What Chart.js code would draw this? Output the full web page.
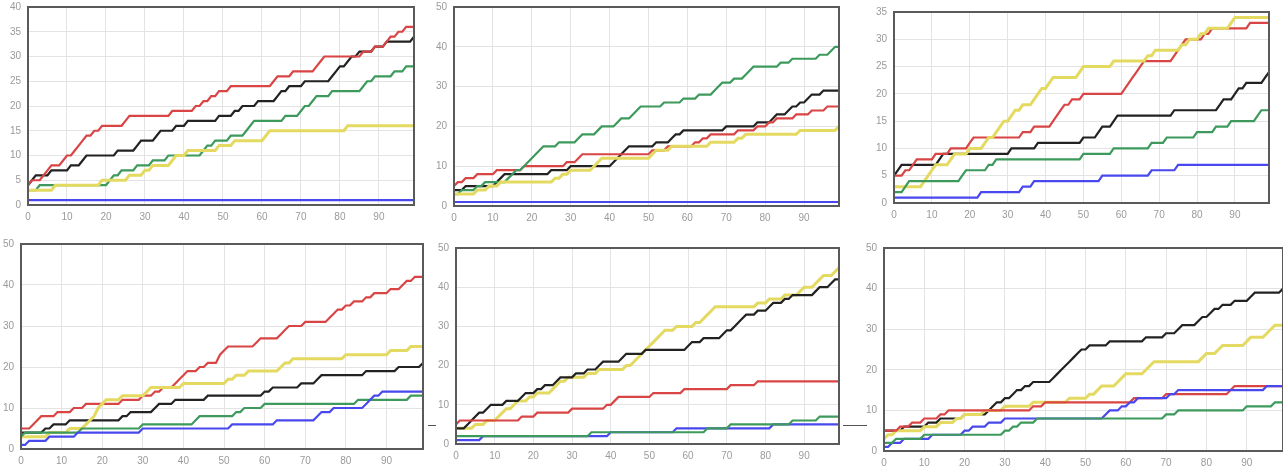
<!DOCTYPE html>
<html>
<head>
<meta charset="utf-8">
<script src="https://cdn.jsdelivr.net/npm/chart.js@4.4.1/dist/chart.umd.min.js"></script>
<style>
    body { margin: 0; background: #fff; width: 1283px; height: 472px; overflow: hidden; position: relative; }
    .box { position: absolute; }
    .dash { position: absolute; height: 1px; background: #555; }
</style>
</head>
<body>
<div class="box" id="b1"><canvas id="c1"></canvas></div>
<div class="box" id="b2"><canvas id="c2"></canvas></div>
<div class="box" id="b3"><canvas id="c3"></canvas></div>
<div class="box" id="b4"><canvas id="c4"></canvas></div>
<div class="box" id="b5"><canvas id="c5"></canvas></div>
<div class="box" id="b6"><canvas id="c6"></canvas></div>
<div class="dash" style="left:428px;top:425px;width:8px"></div>
<div class="dash" style="left:843px;top:425px;width:24px"></div>
<script>
const xs = Array.from({length: 100}, (_, i) => i);

// chart 1
const c1Red = [4,5,5,5,6,7,8,8,8,9, 10,10,11,12,13,14,14,15,15,16, 16,16,16,16,16,17,18,18,18,18, 18,18,18,18,18,18,18,19,19,19,
    19,19,19,20,20,21,21,22,22,23, 23,23,24,24,24,24,24,24,24,24, 24,24,24,25,26,26,26,26,27,27, 27,27,27,27,28,29,30,30,30,30,
    30,30,30,30,30,30,31,31,31,32, 32,32,33,34,34,35,35,36,36,36];
const c1Black = [4,5,6,6,6,6,7,7,7,7, 7,8,8,8,9,10,10,10,10,10, 10,10,10,11,11,11,11,11,12,13, 13,13,13,14,15,15,15,15,16,16,
    16,17,17,17,17,17,17,17,17,18, 18,18,18,19,19,20,20,20,20,21, 21,21,21,21,22,23,23,24,24,24, 24,25,25,25,25,25,25,25,26,27,
    28,28,29,30,30,31,31,31,31,32, 32,32,33,33,33,33,33,33,33,34];
const c1Green = [3,3,3,4,4,4,4,4,4,4, 4,4,4,4,4,4,4,4,4,4, 4,5,6,6,7,7,7,7,8,8, 8,8,9,9,9,9,10,10,10,10,
    10,10,10,10,10,11,12,12,13,13, 13,13,14,14,14,14,15,16,17,17, 17,17,17,17,17,17,18,18,18,18, 19,20,20,21,22,22,22,22,23,23,
    23,23,23,23,23,23,24,25,25,26, 26,26,26,26,27,27,27,28,28,28];
const c1Yellow = [3,3,3,3,3,3,3,4,4,4, 4,4,4,4,4,4,4,4,4,5, 5,5,5,5,5,5,6,6,6,6, 7,7,8,8,8,8,8,9,10,10,
    10,11,11,11,11,11,11,11,11,12, 12,12,12,13,13,13,13,13,13,13, 13,14,15,15,15,15,15,15,15,15, 15,15,15,15,15,15,15,15,15,15,
    15,15,16,16,16,16,16,16,16,16, 16,16,16,16,16,16,16,16,16,16];
const c1Blue = xs.map(() => 1);

// chart 2
const c2Green = [3,3,4,4,4,4,5,5,6,6, 6,6,6,6,7,8,9,9,10,11, 12,13,14,15,15,15,15,16,16,16, 16,16,17,18,18,18,18,19,20,20,
    20,20,21,22,22,22,23,24,25,25, 25,25,25,25,26,26,26,26,26,27, 27,27,27,28,28,28,28,29,30,31, 31,31,32,32,32,33,34,35,35,35,
    35,35,35,35,36,36,36,37,37,37, 37,37,37,37,38,38,38,39,40,40];
const c2Red = [5,6,6,7,7,7,8,8,8,8, 8,9,9,9,9,9,9,9,10,10, 10,10,10,10,10,10,10,10,10,11, 11,11,12,13,13,13,13,13,13,13,
    13,13,13,13,13,13,13,13,13,13, 13,14,14,14,14,15,15,15,15,15, 15,15,16,16,17,17,18,18,18,18, 18,18,18,19,19,19,19,19,20,20,
    20,21,21,22,22,22,22,22,23,23, 23,23,24,24,24,24,25,25,25,25];
const c2Black = [4,4,4,5,5,5,5,5,5,5, 5,6,7,8,8,8,8,8,8,8, 8,8,8,8,8,9,9,9,9,9, 10,10,10,10,10,10,10,10,10,10,
    10,11,12,13,14,15,15,15,15,15, 15,15,16,16,16,16,17,18,18,19, 19,19,19,19,19,19,19,19,19,19, 20,20,20,20,20,20,20,20,21,21,
    21,21,22,23,23,23,24,25,25,26, 26,27,28,28,28,29,29,29,29,29];
const c2Yellow = [3,3,3,3,3,3,4,4,4,5, 5,5,6,6,6,6,6,6,6,6, 6,6,6,6,6,6,7,7,8,8, 9,9,9,9,9,9,10,11,12,12,
    12,12,12,12,12,12,12,12,12,12, 12,13,14,14,14,14,15,15,15,15, 15,15,15,15,15,15,16,16,16,16, 16,16,16,17,17,18,18,18,18,18,
    18,18,18,18,18,18,18,18,18,19, 19,19,19,19,19,19,19,19,19,20];
const c2Blue = xs.map(() => 1);

// chart 3
const c3Red = [5,5,5,6,6,7,8,8,8,8, 8,9,9,9,9,10,10,10,10,10, 11,12,12,12,12,12,12,12,12,12, 12,12,12,12,13,13,13,14,14,14,
    14,14,15,16,17,18,18,19,19,19, 20,20,20,20,20,20,20,20,20,20, 20,21,22,23,24,25,26,26,26,26, 26,26,26,26,27,28,29,30,30,30,
    30,30,31,31,32,32,32,32,32,32, 32,32,32,32,33,33,33,33,33,33];
const c3Black = [5,6,7,7,7,7,7,7,7,7, 7,7,8,9,9,9,9,9,9,9, 9,9,9,9,9,9,9,9,9,9, 9,10,10,10,10,10,10,10,11,11,
    11,11,11,11,11,11,11,11,11,11, 12,12,12,12,13,14,14,14,15,16, 16,16,16,16,16,16,16,16,16,16, 16,16,16,16,17,17,17,17,17,17,
    17,17,17,17,17,17,18,19,19,19, 20,21,21,22,22,22,22,22,23,24];
const c3Yellow = [3,3,3,3,3,3,3,3,4,5, 6,7,7,7,7,8,9,9,9,9, 10,10,10,10,11,12,12,13,14,15, 15,16,17,17,18,18,18,19,20,21,
    21,22,23,23,23,23,23,23,23,24, 25,25,25,25,25,25,25,25,26,26, 26,26,26,26,26,26,26,27,27,28, 28,28,28,28,28,28,29,29,30,30,
    30,31,31,32,32,32,32,32,32,33, 34,34,34,34,34,34,34,34,34,34];
const c3Green = [2,2,2,3,4,4,4,4,4,4, 4,4,4,4,4,4,4,4,5,6, 6,6,6,6,6,7,7,8,8,8, 8,8,8,8,8,8,8,8,8,8,
    8,8,8,8,8,8,8,8,8,8, 9,9,9,9,9,9,9,9,10,10, 10,10,10,10,10,10,10,10,11,11, 11,11,12,12,12,12,12,12,12,12,
    13,13,13,13,13,14,14,14,14,15, 15,15,15,15,15,15,16,17,17,17];
const c3Blue = [1,1,1,1,1,1,1,1,1,1, 1,1,1,1,1,1,1,1,1,1, 1,1,1,2,2,2,2,2,2,2, 2,2,2,2,3,3,3,4,4,4,
    4,4,4,4,4,4,4,4,4,4, 4,4,4,4,4,5,5,5,5,5, 5,5,5,5,5,5,5,5,6,6, 6,6,6,6,6,7,7,7,7,7,
    7,7,7,7,7,7,7,7,7,7, 7,7,7,7,7,7,7,7,7,7];

// chart 4
const c4Red = [5,5,5,6,7,8,8,8,8,9, 9,9,9,10,10,10,11,11,11,11, 11,11,11,11,11,12,12,12,12,12, 13,13,13,14,14,15,15,15,16,17,
    18,19,19,19,20,20,21,21,21,23, 24,25,25,25,25,25,25,25,26,27, 27,27,27,27,28,29,30,30,30,30, 31,31,31,31,31,31,32,33,34,34,
    35,35,36,36,36,37,37,38,38,38, 38,39,39,39,40,41,41,42,42,42];
const c4Yellow = [3,3,3,3,3,3,3,4,4,4, 4,4,5,5,5,5,6,7,8,10, 11,12,12,12,12,13,13,13,13,13, 13,14,15,15,15,15,15,15,15,15,
    16,16,16,16,16,16,16,16,16,16, 16,17,17,18,18,18,19,19,19,19, 19,19,19,19,20,21,21,22,22,22, 22,22,22,22,22,22,22,22,22,22,
    23,23,23,23,23,23,23,23,23,23, 23,24,24,24,24,24,25,25,25,25];
const c4Black = [4,4,4,4,4,4,5,5,6,6, 6,6,7,7,7,7,7,7,7,7, 7,7,7,7,7,8,8,9,9,9, 9,9,9,10,11,11,11,11,12,12,
    12,12,12,12,12,12,13,13,13,13, 13,13,13,13,13,13,13,13,13,13, 14,14,15,15,15,15,15,15,15,16, 16,16,16,17,18,18,18,18,18,18,
    18,18,18,18,18,19,19,19,19,19, 19,19,19,20,20,20,20,20,20,21];
const c4Green = [3,4,4,4,4,4,4,4,4,4, 4,4,4,4,4,5,5,5,5,5, 5,5,5,5,5,5,5,5,5,5, 6,6,6,6,6,6,6,6,6,6,
    6,6,6,7,8,8,8,8,8,8, 8,8,8,9,9,10,10,10,10,10, 11,11,11,11,11,11,11,11,11,11, 11,11,11,11,11,11,11,11,11,11,
    11,11,11,12,12,12,12,12,12,12, 12,12,12,12,12,12,13,13,13,13];
const c4Blue = [1,1,2,2,2,2,2,3,3,3, 3,3,3,3,4,4,4,4,4,4, 4,4,4,4,4,4,4,4,4,4, 5,5,5,5,5,5,5,5,5,5,
    5,5,5,5,5,5,5,5,5,5, 5,5,6,6,6,6,6,6,6,6, 6,6,6,7,7,7,7,7,7,7, 7,7,7,8,9,9,9,10,10,10,
    10,10,10,10,10,11,12,13,13,14, 14,14,14,14,14,14,14,14,14,14];

// chart 5
const c5Yellow = [4,4,4,4,4,5,5,5,6,6, 6,7,8,9,9,10,11,11,11,12, 12,13,13,13,13,14,15,16,16,17, 17,17,17,17,18,18,18,19,19,19,
    19,19,19,19,20,20,21,22,23,24, 25,26,27,28,29,29,29,30,30,30, 30,30,31,31,32,33,34,35,35,35, 35,35,35,35,35,35,35,35,36,36,
    36,37,37,37,37,38,38,38,38,39, 40,40,40,41,42,43,43,43,44,45];
const c5Black = [4,4,4,5,6,7,8,8,9,10, 10,10,10,11,11,11,11,12,13,13, 13,14,14,15,15,15,16,17,17,17, 17,18,18,18,19,19,19,20,21,21,
    21,21,21,22,23,23,23,23,23,24, 24,24,24,24,24,24,24,24,24,24, 25,26,26,26,27,27,27,27,27,28, 29,29,30,31,32,33,33,33,34,34,
    34,35,36,36,36,37,37,38,38,38, 38,38,38,39,40,40,40,41,42,42];
const c5Red = [5,6,6,6,6,6,6,6,6,6, 6,6,6,6,6,6,6,7,7,7, 7,8,8,8,8,8,8,8,8,8, 9,9,9,9,9,9,9,9,9,10,
    10,11,12,12,12,12,12,12,12,12, 12,13,13,13,13,13,13,13,13,14, 14,14,14,14,14,14,14,14,14,14, 14,15,15,15,15,15,15,15,16,16,
    16,16,16,16,16,16,16,16,16,16, 16,16,16,16,16,16,16,16,16,16];
const c5Green = [2,2,2,2,2,2,2,2,2,2, 2,2,2,2,2,2,2,2,2,2, 2,2,2,2,2,2,2,2,2,2, 2,2,2,2,2,3,3,3,3,3,
    3,3,3,3,3,3,3,3,3,3, 3,3,3,3,3,3,3,3,3,3, 3,3,3,3,3,4,4,4,4,4, 4,5,5,5,5,5,5,5,5,5,
    5,5,5,5,5,5,5,6,6,6, 6,6,6,6,7,7,7,7,7,7];
const c5Blue = [1,1,1,1,1,1,1,2,2,2, 2,2,2,2,2,2,2,2,2,2, 2,2,2,2,2,2,2,2,2,2, 2,2,2,2,2,2,2,2,2,2,
    3,3,3,3,3,3,3,3,3,3, 3,3,3,3,3,3,3,4,4,4, 4,4,4,4,4,4,4,4,4,4, 4,4,4,4,4,4,4,4,4,4,
    4,4,5,5,5,5,5,5,5,5, 5,5,5,5,5,5,5,5,5,5];

// chart 6
const c6Black = [5,5,5,5,5,6,6,6,6,6, 6,7,7,7,8,8,8,8,8,8, 9,9,9,9,9,9,10,11,12,12, 13,13,14,15,15,16,16,17,17,17,
    17,17,18,19,20,21,22,23,24,25, 25,26,26,26,26,26,27,27,27,27, 27,27,27,27,27,28,28,28,28,28, 29,29,29,30,31,31,31,31,32,33,
    33,34,35,35,36,36,36,37,37,37, 37,38,39,39,39,39,39,39,39,40];
const c6Yellow = [3,4,4,5,5,5,5,5,5,5, 6,6,6,6,7,7,7,7,8,8, 9,9,9,9,9,10,10,10,10,10, 11,11,11,11,11,11,11,12,12,12,
    12,12,12,12,12,12,13,13,13,13, 13,14,14,15,16,16,16,16,17,18, 19,19,19,19,19,20,21,22,22,22, 22,22,22,22,22,22,22,22,22,23,
    24,24,24,25,26,26,26,26,26,26, 27,28,28,28,28,29,30,31,31,31];
const c6Red = [5,5,5,5,6,6,6,7,7,7, 8,8,8,8,9,9,10,10,10,10, 10,10,10,10,10,10,10,10,10,10, 10,10,10,10,10,10,10,11,11,11,
    12,12,12,12,12,12,12,12,12,12, 12,12,12,12,12,12,12,12,12,12, 12,12,13,13,13,13,13,13,13,13, 14,14,14,14,14,14,14,14,14,14,
    14,14,14,14,14,14,15,16,16,16, 16,16,16,16,16,16,16,16,16,16];
const c6Blue = [1,1,2,2,2,3,3,3,3,3, 3,3,4,4,4,4,4,4,4,4, 5,5,6,6,6,6,7,7,7,7, 8,8,8,8,8,8,8,8,8,8,
    8,8,8,8,8,8,8,8,8,8, 8,8,8,8,8,9,10,10,10,11, 11,12,12,13,13,13,13,13,13,13, 13,14,14,15,15,15,15,15,15,15,
    15,15,15,15,15,15,15,15,15,15, 15,15,15,15,15,16,16,16,16,16];
const c6Green = [2,2,2,3,3,3,3,3,3,3, 4,4,4,4,4,4,4,4,4,4, 4,4,4,4,4,4,4,4,4,4, 5,5,6,6,7,7,7,7,8,8,
    8,8,8,8,8,8,8,8,8,8, 8,8,8,8,8,8,8,8,8,8, 8,8,8,8,8,8,8,8,8,8, 9,9,9,10,10,10,10,10,10,10,
    10,10,10,10,10,10,10,10,10,10, 11,11,11,11,11,11,11,12,12,12];

const RED = '#d94545';
const BLACK = '#222222';
const GREEN = '#3d9a5c';
const YELLOW = '#e4da62';
const BLUE = '#4848ee';

// box: plot left, right, top, bottom (page px)
const panels = [
    {id: 'c1', box: [28, 414, 7, 205], yMax: 40, yStep: 5,
        series: [[c1Blue, BLUE], [c1Yellow, YELLOW], [c1Green, GREEN], [c1Red, RED], [c1Black, BLACK]]},
    {id: 'c2', box: [454, 839, 7, 206], yMax: 50, yStep: 10,
        series: [[c2Blue, BLUE], [c2Yellow, YELLOW], [c2Green, GREEN], [c2Red, RED], [c2Black, BLACK]]},
    {id: 'c3', box: [894, 1269, 12, 203], yMax: 35, yStep: 5,
        series: [[c3Blue, BLUE], [c3Green, GREEN], [c3Yellow, YELLOW], [c3Red, RED], [c3Black, BLACK]]},
    {id: 'c4', box: [21, 423, 244, 449], yMax: 50, yStep: 10,
        series: [[c4Blue, BLUE], [c4Green, GREEN], [c4Yellow, YELLOW], [c4Black, BLACK], [c4Red, RED]]},
    {id: 'c5', box: [456, 839, 248, 444], yMax: 50, yStep: 10,
        series: [[c5Green, GREEN], [c5Blue, BLUE], [c5Red, RED], [c5Black, BLACK], [c5Yellow, YELLOW]]},
    {id: 'c6', box: [884, 1283, 248, 451], yMax: 50, yStep: 10,
        series: [[c6Green, GREEN], [c6Blue, BLUE], [c6Red, RED], [c6Yellow, YELLOW], [c6Black, BLACK]]},
];

// chart.js keeps ~13px above the plot for the top y label
const Y_W = 22, X_H = 22, TOP_OFF = 13, RIGHT_PAD = 1;

const frame = {
    id: 'frame',
    afterDraw(chart) {
        const a = chart.chartArea, ctx = chart.ctx;
        ctx.save();
        ctx.strokeStyle = '#5a5a5a';
        ctx.lineWidth = 2;
        ctx.strokeRect(a.left, a.top, a.right - a.left, a.bottom - a.top);
        ctx.restore();
    }
};

Chart.defaults.font.family = '"Liberation Sans", Arial, sans-serif';
Chart.defaults.font.size = 10;
Chart.defaults.color = '#9a9a9a';

panels.forEach(function (p) {
    const [l, r, t, b] = p.box;
    const div = document.getElementById(p.id).parentNode;
    div.style.left = (l - Y_W) + 'px';
    div.style.top = (t - TOP_OFF) + 'px';
    div.style.width = (r - l + Y_W + RIGHT_PAD) + 'px';
    div.style.height = (b - t + TOP_OFF + X_H) + 'px';

    new Chart(document.getElementById(p.id), {
        type: 'line',
        data: {
            labels: xs,
            datasets: p.series.map(([values, color]) => ({
                data: values,
                borderColor: color,
                borderWidth: color === YELLOW ? 3 : 2.2,
                pointRadius: 0,
                tension: 0,
                fill: false
            }))
        },
        plugins: [frame],
        options: {
            responsive: true,
            maintainAspectRatio: false,
            animation: false,
            layout: {padding: {top: 0, right: RIGHT_PAD, left: 0, bottom: 0}},
            plugins: {legend: {display: false}, tooltip: {enabled: false}},
            scales: {
                x: {
                    type: 'linear',
                    min: 0,
                    max: 99,
                    afterBuildTicks: s => { s.ticks = s.ticks.filter(tk => tk.value % 10 === 0 && tk.value < 99); },
                    afterFit: s => { s.height = X_H; },
                    ticks: {stepSize: 10, padding: 6, maxRotation: 0},
                    grid: {color: '#e3e3e3', drawTicks: false},
                    border: {display: false}
                },
                y: {
                    min: 0,
                    max: p.yMax,
                    afterFit: s => { s.width = Y_W; },
                    ticks: {stepSize: p.yStep, padding: 7},
                    grid: {color: '#e3e3e3', drawTicks: false},
                    border: {display: false}
                }
            }
        }
    });
});
</script>
</body>
</html>
